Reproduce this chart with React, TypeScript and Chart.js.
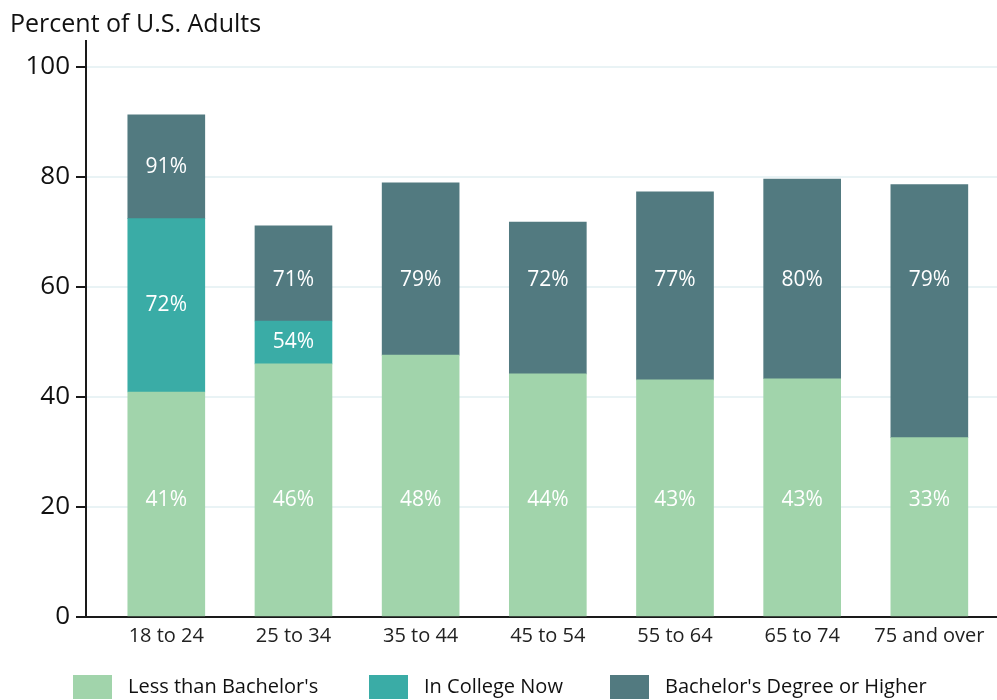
import React, { useEffect, useRef } from "react";
import { Chart, registerables } from "chart.js";

Chart.register(...registerables);

const categories = ["18 to 24", "25 to 34", "35 to 44", "45 to 54", "55 to 64", "65 to 74", "75 and over"];
const seriesNames = ["Less than Bachelor's", "In College Now", "Bachelor's Degree or Higher"];
const lessThanBachelors = [40.9, 46.0, 47.6, 44.2, 43.1, 43.3, 32.6];
const inCollegeNow = [31.5, 7.8, null, null, null, null, null];
const bachelorsOrHigher = [18.9, 17.3, 31.3, 27.6, 34.2, 36.3, 46.0];
const lessLabels = ["41%", "46%", "48%", "44%", "43%", "43%", "33%"];
const collegeLabels = ["72%", "54%", null, null, null, null, null];
const bachelorLabels = ["91%", "71%", "79%", "72%", "77%", "80%", "79%"];
const yTicks = [0, 20, 40, 60, 80, 100];

const FONT = '"Open Sans", "Noto Sans", sans-serif';
const COLORS = ["#a1d4ab", "#3aaca6", "#527a80"];
const LABEL_ANCHOR = [21.2, null, 61.3];

const segLabels = [lessLabels, collegeLabels, bachelorLabels];

const labelPlugin = {
  id: "segLabels",
  afterDatasetsDraw(chart: any) {
    const ctx = chart.ctx;
    const yScale = chart.scales.y;
    ctx.save();
    ctx.font = `500 21px ${FONT}`;
    ctx.fillStyle = "#ffffff";
    ctx.textAlign = "center";
    ctx.textBaseline = "middle";
    chart.data.datasets.forEach((ds: any, di: number) => {
      const meta = chart.getDatasetMeta(di);
      meta.data.forEach((el: any, i: number) => {
        const txt = segLabels[di][i];
        if (!txt) return;
        const { x, y, base } = el.getProps(["x", "y", "base"], true);
        let ty = (y + base) / 2;
        const anchor = LABEL_ANCHOR[di];
        if (anchor !== null) {
          const ay = yScale.getPixelForValue(anchor);
          if (ay > y + 12 && ay < base - 12) ty = ay;
        }
        ctx.fillText(txt, x, ty);
      });
    });
    ctx.restore();
  },
};

// legend layout (positions only)
const LEGEND_X = [73, 369, 610];
const LEGEND_BOX_W = 39;
const LEGEND_BOX_H = 24;
const LEGEND_BOX_TOP = 675;
const LEGEND_TEXT_GAP = 16;

const legendPlugin = {
  id: "bottomLegend",
  afterDraw(chart: any) {
    const ctx = chart.ctx;
    ctx.save();
    ctx.font = `20px ${FONT}`;
    ctx.textAlign = "left";
    ctx.textBaseline = "middle";
    chart.data.datasets.forEach((ds: any, di: number) => {
      const x = LEGEND_X[di];
      ctx.fillStyle = ds.backgroundColor;
      ctx.fillRect(x, LEGEND_BOX_TOP, LEGEND_BOX_W, LEGEND_BOX_H);
      ctx.fillStyle = "#111";
      ctx.fillText(ds.label, x + LEGEND_BOX_W + LEGEND_TEXT_GAP, LEGEND_BOX_TOP + LEGEND_BOX_H / 2);
    });
    ctx.restore();
  },
};

export default function App() {
  const ref = useRef<HTMLCanvasElement | null>(null);
  useEffect(() => {
    if (!ref.current) return;
    const toPts = (arr: (number | null)[]) => arr.map((v, i) => ({ x: i, y: v }));
    const chart = new Chart(ref.current, {
      type: "bar",
      data: {
        datasets: [
          { label: seriesNames[0], data: toPts(lessThanBachelors), backgroundColor: COLORS[0] },
          { label: seriesNames[1], data: toPts(inCollegeNow), backgroundColor: COLORS[1] },
          { label: seriesNames[2], data: toPts(bachelorsOrHigher), backgroundColor: COLORS[2] },
        ] as any,
      },
      options: {
        animation: false,
        responsive: false,
        events: [],
        layout: { padding: { left: 10, right: 0, top: 0, bottom: 33 } },
        datasets: { bar: { barThickness: 77 } } as any,
        scales: {
          x: {
            type: "linear",
            offset: false,
            stacked: true,
            min: -0.6314,
            max: 6.532,
            afterFit: (s: any) => { s.height = 50; },
            afterBuildTicks: (s: any) => { s.ticks = categories.map((_, i) => ({ value: i })); },
            grid: { display: false, drawTicks: false, offset: false },
            border: { display: true, color: "#1a1a1a", width: 2 },
            ticks: {
              padding: 7,
              color: "#222",
              font: { family: FONT, size: 20 },
              callback: (v: any) => categories[v] ?? "",
              maxRotation: 0,
              autoSkip: false,
            },
          },
          y: {
            stacked: true,
            min: 0,
            max: 104.7,
            afterFit: (s: any) => { s.width = 76; },
            afterBuildTicks: (s: any) => { s.ticks = yTicks.map((v) => ({ value: v })); },
            grid: {
              color: (c: any) => (c.tick && c.tick.value === 0 ? "rgba(0,0,0,0)" : "#e9f3f5"),
              lineWidth: 2,
              tickColor: "#1a1a1a",
              tickLength: 10,
              tickWidth: 2,
            } as any,
            border: { display: true, color: "#1a1a1a", width: 2 },
            ticks: {
              padding: 6,
              color: "#111",
              font: { family: FONT, size: 26 },
            },
          },
        },
        plugins: {
          title: {
            display: true,
            text: "Percent of U.S. Adults",
            align: "start",
            color: "#111",
            font: { family: FONT, size: 25, weight: "normal" as any, lineHeight: 1.2 },
            padding: { top: 10, bottom: 1 },
          },
          legend: { display: false },
          tooltip: { enabled: false },
        },
      },
      plugins: [labelPlugin, legendPlugin],
    });
    return () => chart.destroy();
  }, []);
  return (
    <div style={{ position: "fixed", left: 0, top: 0, width: 997, height: 700, background: "#fff" }}>
      <canvas ref={ref} width={997} height={700} style={{ display: "block" }} />
    </div>
  );
}
